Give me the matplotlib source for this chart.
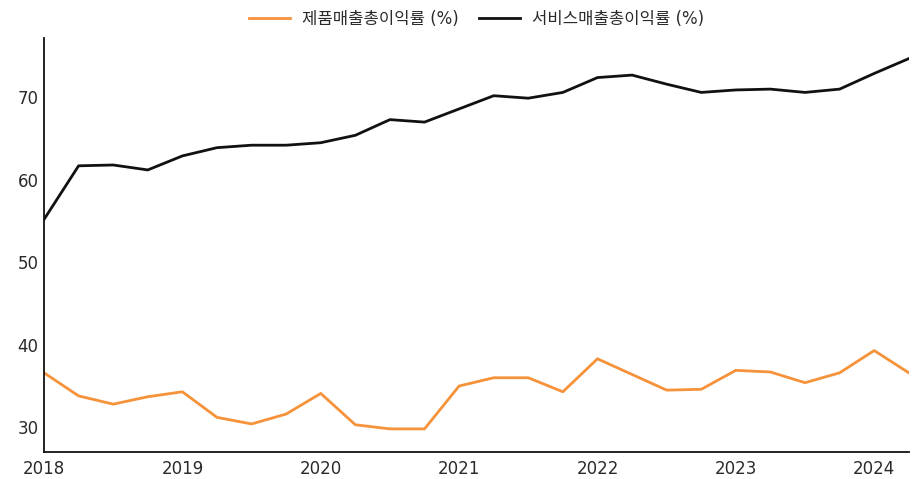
import matplotlib
matplotlib.use("Agg")
import matplotlib.pyplot as plt
import numpy as np

plt.rcParams['font.family'] = ['DejaVu Sans', 'Noto Sans CJK KR']

quarters = [2018 + 0.25 * i for i in range(26)]
product_margin = [36.6, 33.8, 32.8, 33.7, 34.3, 31.2, 30.4, 31.6, 34.1, 30.3, 29.8, 29.8,
                  35.0, 36.0, 36.0, 34.3, 38.3, 36.4, 34.5, 34.6, 36.9, 36.7, 35.4, 36.6,
                  39.3, 36.6]
service_margin = [55.2, 61.7, 61.8, 61.2, 62.9, 63.9, 64.2, 64.2, 64.5, 65.4, 67.3, 67.0,
                  68.6, 70.2, 69.9, 70.6, 72.4, 72.7, 71.6, 70.6, 70.9, 71.0, 70.6, 71.0,
                  72.9, 74.7]
labels = ['제품매출총이익률 (%)', '서비스매출총이익률 (%)']
year_ticks = [2018, 2019, 2020, 2021, 2022, 2023, 2024]
y_ticks = [30, 40, 50, 60, 70]

fig = plt.figure(figsize=(9.19, 4.79), dpi=100)
ax = fig.add_axes([0.0479, 0.0564, 0.941, 0.8643])
ax.plot(quarters, product_margin, color='#f5923a', lw=2.0, label=labels[0])
ax.plot(quarters, service_margin, color='#111111', lw=2.0, label=labels[1])

ax.set_xlim(2018, 2024.25)
ax.set_ylim(27.0, 77.2)
ax.set_xticks(year_ticks)
ax.set_xticklabels([str(y) for y in year_ticks], fontfamily='DejaVu Sans')
ax.set_yticks(y_ticks)
ax.set_yticklabels([str(y) for y in y_ticks], fontfamily='DejaVu Sans')
for s in ['top', 'right']:
    ax.spines[s].set_visible(False)
for s in ['left', 'bottom']:
    ax.spines[s].set_color('#111111')
    ax.spines[s].set_linewidth(1.3)
ax.tick_params(length=0, labelsize=12, labelcolor='#2a2a2a')
ax.tick_params(axis='x', pad=6)
ax.tick_params(axis='y', pad=4)

ax.legend(loc='lower center', bbox_to_anchor=(0.5, 1.0), ncol=2, frameon=False,
          fontsize=12, handlelength=2.5, handletextpad=0.7, columnspacing=1.2,
          borderaxespad=0.2, labelcolor='#2a2a2a')

fig.savefig('out.png', dpi=100)
